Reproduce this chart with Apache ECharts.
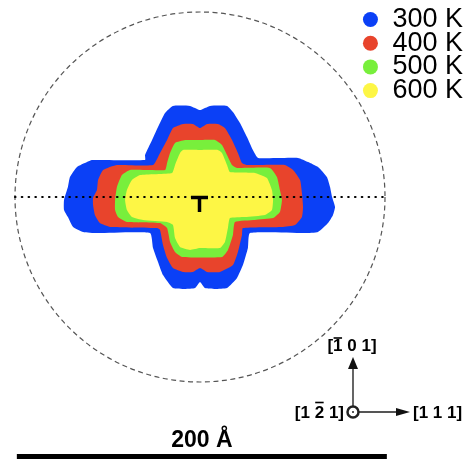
<!DOCTYPE html>
<html>
<head>
<meta charset="utf-8">
<script src="https://cdn.jsdelivr.net/npm/echarts@6/dist/echarts.min.js"></script>
<style>
  html, body { margin: 0; padding: 0; background: #fff; }
  #chart { width: 471px; height: 459px; }
</style>
</head>
<body>
<div id="chart"></div>
<script>
// loop outlines in angstrom, origin on the dislocation, y pointing up
const temps = ['300 K', '400 K', '500 K', '600 K'];
const tempColors = ['#0b40f6', '#e8442c', '#78ef3c', '#fdf645'];

const loop300 = [
  [0, 47], [5.4, 49.2], [14.6, 49.2], [17.8, 45.9], [21.6, 40], [25.4, 32.4], [28.6, 25.4], [31.4, 21.1],
  [53, 21.1], [58.4, 18.9], [63.8, 16.2], [68.6, 10.8], [70.3, 5.4], [71.4, 0], [73, -5.4], [71.9, -9.7],
  [69.2, -14.1], [63.8, -18.9], [56.8, -19.5], [27, -19.5], [25.9, -27.6], [23.2, -36.8], [20, -43.8],
  [14.6, -49.2], [8.1, -49.7], [2.7, -49.2], [0, -45.9], [-2.7, -49.2], [-8.1, -49.7], [-14.6, -49.2],
  [-20, -42.2], [-22.7, -35.1], [-25.4, -27.6], [-27, -19.5], [-55.7, -19.5], [-63.2, -18.9], [-68.6, -16.2],
  [-71.4, -10.8], [-73.5, -7], [-73.5, -1.6], [-71.4, 5.4], [-70.3, 10.8], [-66.5, 16.2], [-61.1, 18.9],
  [-58.4, 20], [-29.7, 20], [-29.7, 22.7], [-25.9, 30.8], [-22.7, 37.8], [-18.9, 45.4], [-14.6, 49.2], [-5.4, 49.2]
];
const loop400 = [
  [0, 37.3], [3.8, 39.5], [9.7, 39.5], [13.5, 37.3], [17.3, 30.8], [20.5, 23.8], [22.7, 18.4], [25.4, 17.3],
  [45.9, 17.3], [50.3, 14.6], [54.1, 9.2], [55.1, 2.2], [55.7, -5.4], [55.1, -10.8], [51.4, -15.1], [44.3, -16.2],
  [23.2, -16.8], [22.7, -20.5], [20.5, -29.7], [17.8, -36.8], [10.8, -40.5], [3.8, -40.5], [0, -38.4],
  [-3.8, -40.5], [-9.2, -40.5], [-14.6, -38.4], [-17.8, -33], [-20, -25.9], [-21.6, -17.8], [-23.2, -16.8],
  [-48.6, -16.2], [-54.1, -14.1], [-56.8, -9.7], [-57.8, -4.3], [-57.8, -0.5], [-55.7, 3.8], [-55.1, 9.2],
  [-52.4, 14.6], [-44.9, 17.3], [-25.4, 17.3], [-21.6, 23.8], [-17.8, 30.8], [-14.6, 37.3], [-9.2, 39.5], [-3.8, 39.5]
];
const loop500 = [
  [0, 30.8], [8.1, 30.8], [11.9, 28.1], [14.6, 22.7], [17.3, 17.3], [20, 15.7], [37.8, 15.7], [41.6, 10.8],
  [43.2, 3.8], [44.3, -1.6], [43.2, -8.1], [39.5, -11.4], [29.7, -12.4], [18.9, -13.5], [17.8, -20.5],
  [15.1, -28.6], [11.9, -32.4], [-9.7, -32.4], [-13.5, -29.7], [-16.2, -24.3], [-17.8, -16.8], [-21.6, -14.1],
  [-39.5, -13.5], [-44.3, -10.8], [-45.9, -7], [-45.9, -1.6], [-44.9, 5.4], [-42.2, 11.9], [-37.8, 14.6],
  [-18.9, 14.6], [-17.8, 18.4], [-16.2, 23.8], [-13.5, 29.2], [-8.1, 30.8]
];
const loop600 = [
  [0, 25.4], [9.7, 25.4], [11.9, 23.8], [14.6, 17.3], [16.2, 13.5], [29.7, 13], [36.2, 10.3], [38.9, 3.8],
  [39.5, -1.6], [38.9, -7], [35.1, -9.7], [24.3, -10.8], [16.2, -11.4], [15.1, -16.8], [13.5, -24.3],
  [10.8, -27.6], [0, -27.6], [-5.4, -28.6], [-10.8, -27], [-13.5, -22.2], [-14.6, -15.1], [-17.8, -13.5],
  [-30.8, -12.4], [-36.8, -10.8], [-39.5, -7], [-40.5, -1.6], [-39.5, 3.8], [-36.8, 9.2], [-32.4, 11.9],
  [-15.1, 13], [-13.5, 17.3], [-10.8, 23.8], [-9.2, 25.4]
];
const loops = [loop300, loop400, loop500, loop600];

const circleRadius = 100;               // Å
const glidePlane = [[-100, 0], [100, 0]];
const scaleBar = [[-99, -140.5], [101, -140.5]];
const scaleBarLabel = '200 Å';
// direction labels; bar = index of the digit carrying the overbar
const dirRight = { text: '[1 1 1]', bar: -1 };
const dirUp = { text: '[1 0 1]', bar: 1 };
const dirOut = { text: '[1 2 1]', bar: 3 };

// page layout: 1.85 px per Å, dislocation at pixel (200, 197)
const pxPerA = 1.85;
const origin = [200, 197];
const W = 471, H = 459;

const chart = echarts.init(document.getElementById('chart'), null, { renderer: 'canvas' });

function loopSeries(name, color, pts) {
  return {
    name: name,
    type: 'custom',
    coordinateSystem: 'cartesian2d',
    silent: true,
    itemStyle: { color: color },
    data: pts,
    renderItem: function (params, api) {
      if (params.dataIndex !== 0) return null;
      return {
        type: 'polygon',
        shape: { points: pts.map(function (p) { return api.coord(p); }), smooth: 0.15 },
        style: { fill: color }
      };
    }
  };
}

const series = temps.map(function (t, i) { return loopSeries(t, tempColors[i], loops[i]); });

series.push({
  type: 'custom',
  silent: true,
  data: [[0, 0]],
  renderItem: function (params, api) {
    const c = api.coord([0, 0]);
    const r = api.size([circleRadius, 0])[0];
    return {
      type: 'circle',
      shape: { cx: c[0], cy: c[1], r: r },
      style: { fill: 'none', stroke: '#555', lineWidth: 1.2, lineDash: [5, 3.5] }
    };
  }
});

series.push({
  type: 'line',
  silent: true,
  symbol: 'none',
  data: glidePlane,
  lineStyle: { color: '#000', width: 2.2, type: [0.5, 6.3], cap: 'round' }
});

// dislocation symbol
series.push({
  type: 'custom',
  silent: true,
  data: [[0, 0]],
  renderItem: function (params, api) {
    const c = api.coord([0, 0]);
    return {
      type: 'group',
      children: [
        { type: 'line', shape: { x1: c[0] - 9, y1: c[1] + 0.5, x2: c[0] + 8, y2: c[1] + 0.5 }, style: { stroke: '#000', lineWidth: 3.5 } },
        { type: 'line', shape: { x1: c[0] - 0.5, y1: c[1], x2: c[0] - 0.5, y2: c[1] + 15 }, style: { stroke: '#000', lineWidth: 3.5 } }
      ]
    };
  }
});

// scale bar
series.push({
  type: 'custom',
  silent: true,
  data: scaleBar,
  renderItem: function (params, api) {
    if (params.dataIndex !== 0) return null;
    const a = api.coord(scaleBar[0]);
    const b = api.coord(scaleBar[1]);
    return {
      type: 'group',
      children: [
        { type: 'line', shape: { x1: a[0], y1: a[1], x2: b[0], y2: b[1] }, style: { stroke: '#000', lineWidth: 6 } },
        {
          type: 'text', x: (a[0] + b[0]) / 2, y: a[1] - 16,
          style: { text: scaleBarLabel, fontSize: 23, fontWeight: 'bold', fill: '#000', align: 'center', verticalAlign: 'middle', fontFamily: 'Liberation Sans, DejaVu Sans' }
        }
      ]
    };
  }
});

const dirFontSize = 17;
const dirFamily = 'Liberation Sans';
const measureCtx = document.createElement('canvas').getContext('2d');
measureCtx.font = 'bold ' + dirFontSize + 'px ' + dirFamily;

function dirLabel(label, x, y, align, barRise) {
  const out = [{
    type: 'text', x: x, y: y,
    style: { text: label.text, align: align, verticalAlign: 'middle', fontSize: dirFontSize, fontWeight: 'bold', fontFamily: dirFamily, fill: '#000' }
  }];
  if (label.bar >= 0) {
    const total = measureCtx.measureText(label.text).width;
    const pre = measureCtx.measureText(label.text.slice(0, label.bar)).width;
    const ch = measureCtx.measureText(label.text[label.bar]).width;
    const left = align === 'left' ? x : align === 'right' ? x - total : x - total / 2;
    out.push({
      type: 'line',
      shape: { x1: left + pre + 0.5, y1: y - barRise, x2: left + pre + ch - 0.5, y2: y - barRise },
      style: { stroke: '#000', lineWidth: 1.6 }
    });
  }
  return out;
}

chart.setOption({
  animation: false,
  backgroundColor: '#fff',
  grid: { left: 0, right: 0, top: 0, bottom: 0, containLabel: false },
  xAxis: { type: 'value', show: false, min: -origin[0] / pxPerA, max: (W - origin[0]) / pxPerA },
  yAxis: { type: 'value', show: false, min: -(H - origin[1]) / pxPerA, max: origin[1] / pxPerA },
  legend: {
    data: temps,
    orient: 'vertical',
    right: 8,
    top: 6,
    padding: 0,
    icon: 'circle',
    itemWidth: 34,
    itemHeight: 15,
    itemGap: -3.3,
    selectedMode: false,
    textStyle: { fontSize: 27, color: '#000', fontFamily: 'Liberation Sans' }
  },
  graphic: [
    { type: 'line', shape: { x1: 359, y1: 412, x2: 397, y2: 412 }, style: { stroke: '#555', lineWidth: 1.8 } },
    { type: 'polygon', shape: { points: [[396, 408], [410, 412], [396, 416]] }, style: { fill: '#111' } },
    { type: 'line', shape: { x1: 353, y1: 406, x2: 353, y2: 368 }, style: { stroke: '#555', lineWidth: 1.8 } },
    { type: 'polygon', shape: { points: [[348, 369], [353, 357], [358, 369]] }, style: { fill: '#111' } },
    { type: 'circle', shape: { cx: 353, cy: 412, r: 5.5 }, style: { fill: 'none', stroke: '#222', lineWidth: 2.5 } },
    { type: 'circle', shape: { cx: 353, cy: 412, r: 1 }, style: { fill: '#222' } }
  ].concat(
    dirLabel(dirRight, 413, 413.5, 'left', 0),
    dirLabel(dirOut, 344, 413.5, 'right', 11),
    dirLabel(dirUp, 352, 346, 'center', 8)
  ),
  series: series
});
</script>
</body>
</html>
